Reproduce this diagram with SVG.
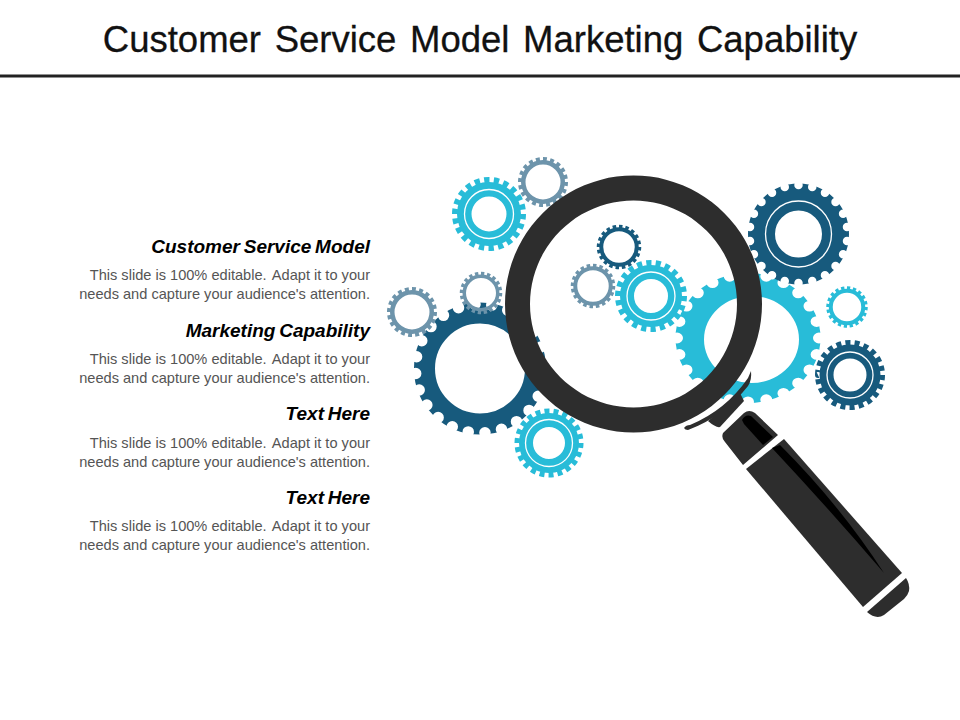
<svg xmlns="http://www.w3.org/2000/svg" width="960" height="720" viewBox="0 0 960 720">
<style>
text{font-family:"Liberation Sans",Arial,sans-serif}
.title{font-size:36.5px;fill:#111;text-anchor:middle;word-spacing:3.5px;stroke:#111;stroke-width:.3px}
.head{font-size:19px;font-weight:bold;font-style:italic;fill:#000;text-anchor:end;word-spacing:-1.5px}
.body{font-size:14.6px;fill:#555;text-anchor:end}
.rule{stroke:#222;stroke-width:3}
.r,.t,.n,.w{fill:none}
.t{stroke-dasharray:1.1 .9}
.n{stroke:#fff;stroke-linecap:round;stroke-dasharray:0 1}
.w{stroke:#fff;stroke-width:1.3}
.cy .r,.cy .t{stroke:#28bcd8}
.dk .r,.dk .t{stroke:#175a7d}
.gy .r,.gy .t{stroke:#6d94ab}
.bc{fill:#28bcd8}
.ink{fill:#2d2d2d}
.blk{fill:#000}
</style>
<line class="rule" x1="0" y1="76" x2="960" y2="76"/>
<text class="title" x="480" y="52">Customer Service Model Marketing Capability</text>
<g id="text-1"><text class="head" x="370" y="253">Customer Service Model</text><text class="body" x="370" y="280">This slide is 100% editable. <tspan dx="2">Adapt it to your</tspan></text><text class="body" x="370" y="299">needs and capture your audience's attention.</text></g>
<g id="text-2"><text class="head" x="370" y="337">Marketing Capability</text><text class="body" x="370" y="364">This slide is 100% editable. <tspan dx="2">Adapt it to your</tspan></text><text class="body" x="370" y="383">needs and capture your audience's attention.</text></g>
<g id="text-3"><text class="head" x="370" y="420">Text Here</text><text class="body" x="370" y="448">This slide is 100% editable. <tspan dx="2">Adapt it to your</tspan></text><text class="body" x="370" y="467">needs and capture your audience's attention.</text></g>
<g id="text-4"><text class="head" x="370" y="504">Text Here</text><text class="body" x="370" y="531">This slide is 100% editable. <tspan dx="2">Adapt it to your</tspan></text><text class="body" x="370" y="550">needs and capture your audience's attention.</text></g>

<g id="gear-big-cyan">
<path class="bc" fill-rule="evenodd" d="M675.500 338a72.500 65 0 1 0 145 0a72.500 65 0 1 0 -145 0zM704 339.500a47.500 43.500 0 1 1 95 0a47.500 43.500 0 1 1 -95 0z"/>
<g transform="translate(748 338) scale(1 .9)"><circle class="n" r="71" stroke-width="12" pathLength="24"/></g>
</g>
<g id="gear-big-dark" class="dk">
<circle class="r" cx="480" cy="368.500" r="55.500" stroke-width="21"/>
<circle class="n" cx="480" cy="368.500" r="64.500" stroke-width="11.500" pathLength="24" stroke-dashoffset=".3"/>
</g>
<g id="gear-top-right" class="dk">
<circle class="r" cx="798.500" cy="234" r="37" stroke-width="27"/>
<circle class="n" cx="798.500" cy="234" r="49" stroke-width="8.500" pathLength="22" stroke-dashoffset=".5"/>
<circle class="w" cx="798.500" cy="234" r="33"/>
</g>
<g id="gear-cyan-1" class="cy">
<circle class="r" cx="489" cy="214" r="24.750" stroke-width="14.500"/>
<circle class="t" cx="489" cy="214" r="34" stroke-width="6" pathLength="44"/>
<circle class="w" cx="489" cy="214" r="24.500"/>
</g>
<g id="gear-grey-1" class="gy">
<circle class="r" cx="543" cy="182" r="19.750" stroke-width="4.500"/>
<circle class="t" cx="543" cy="182" r="23" stroke-width="4" pathLength="40"/>
</g>
<g id="gear-grey-2" class="gy">
<circle class="r" cx="412" cy="312" r="19.750" stroke-width="4.500"/>
<circle class="t" cx="412" cy="312" r="23" stroke-width="4" pathLength="40"/>
</g>
<g id="gear-grey-3" class="gy">
<circle class="r" cx="481" cy="293" r="16.750" stroke-width="3.500"/>
<circle class="t" cx="481" cy="293" r="19.500" stroke-width="3.500" pathLength="40"/>
</g>
<g id="gear-cyan-2" class="cy">
<circle class="r" cx="549" cy="443" r="23" stroke-width="14"/>
<circle class="t" cx="549" cy="443" r="31.500" stroke-width="6" pathLength="44"/>
<circle class="w" cx="549" cy="443" r="23.500"/>
</g>
<g id="gear-lens-dark" class="dk">
<circle class="r" cx="619" cy="247" r="17.750" stroke-width="4"/>
<circle class="t" cx="619" cy="247" r="20.500" stroke-width="3.500" pathLength="40"/>
</g>
<g id="gear-lens-grey" class="gy">
<circle class="r" cx="593" cy="286" r="17.750" stroke-width="4"/>
<circle class="t" cx="593" cy="286" r="20.500" stroke-width="3.500" pathLength="40"/>
</g>
<g id="gear-lens-cyan" class="cy">
<circle class="r" cx="651" cy="296" r="24" stroke-width="14"/>
<circle class="t" cx="651" cy="296" r="33" stroke-width="6" pathLength="44"/>
<circle class="w" cx="651" cy="296" r="24"/>
</g>
<g id="gear-small-cyan" class="cy">
<circle class="r" cx="847" cy="307" r="16.250" stroke-width="4"/>
<circle class="t" cx="847" cy="307" r="19" stroke-width="3.500" pathLength="40"/>
</g>
<g id="gear-small-dark" class="dk">
<circle class="r" cx="850" cy="375" r="23.500" stroke-width="14"/>
<circle class="t" cx="850" cy="375" r="32" stroke-width="6" pathLength="44"/>
<circle class="w" cx="850" cy="375" r="23"/>
</g>

<g id="magnifier">
<path class="ink" fill-rule="evenodd" d="M633.500 175.500a128.500 128.500 0 1 0 .01 0zM633.500 200.500a103.500 103.500 0 1 1 -.01 0z"/>
<path class="ink" d="M684 428Q686 425 690 425A132 132 0 0 0 748 378L751 371Q752 380 748 386A137 137 0 0 1 688 430Q685 430 684 428z"/>
<path class="ink" d="M708 421L740 393L744 401L720 427Q716 428 708 421z"/>
<path class="ink" d="M723 433L744 413Q749 409 755 413L778 435L743 465L725 442Q721 438 723 433z"/>
<path class="ink" d="M784 439L902 573L863 607L746 469z"/>
<path class="ink" d="M906 578Q910 584 909 591Q908 595 904 599L884 615Q876 620 867 612z"/>
<path class="blk" d="M742 420Q745 414 751 416L773 437L763 445L744 424z"/>
<path class="blk" d="M772 448L780 445Q840 505 884 573Q830 510 772 448z"/>
</g>
</svg>
